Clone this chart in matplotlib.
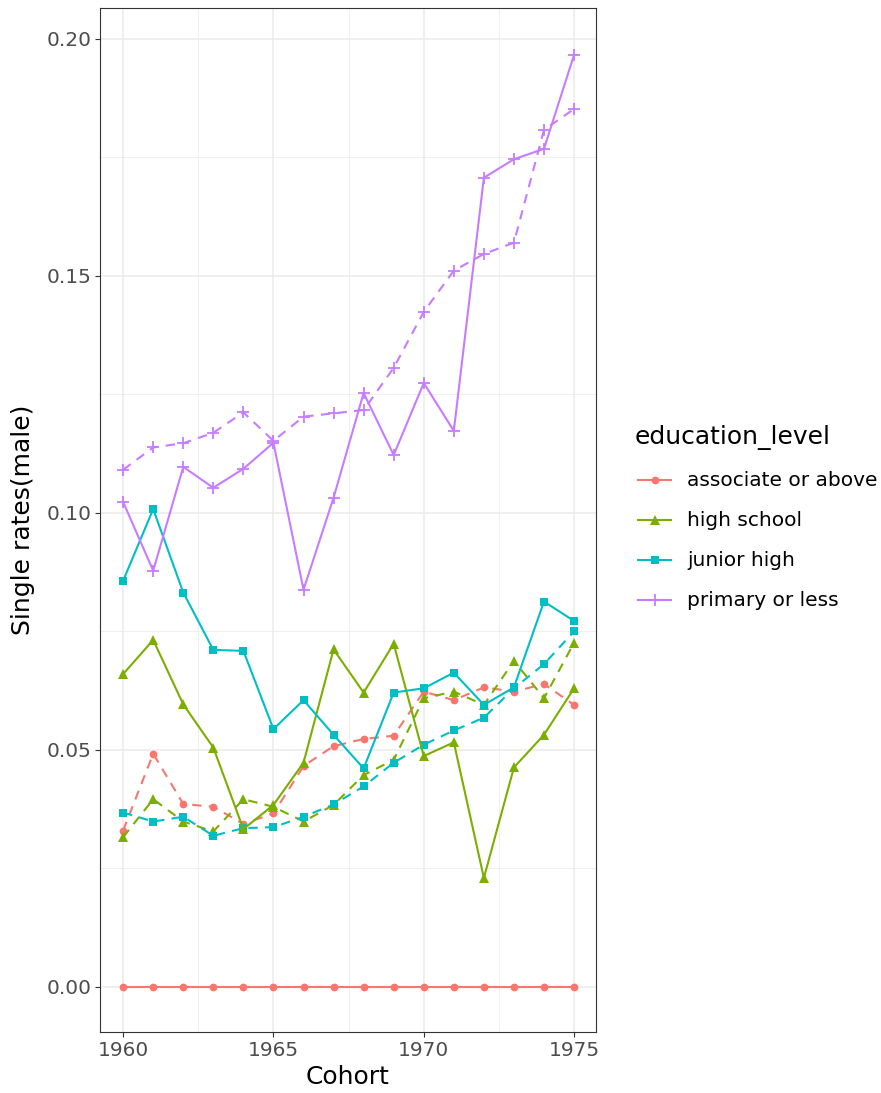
import matplotlib
matplotlib.use("Agg")
import matplotlib.pyplot as plt
from matplotlib.lines import Line2D
from matplotlib.ticker import MultipleLocator

# cohort years
anos = list(range(1960, 1976))

# education levels, ggplot hue colours, shapes
niveis = ["associate or above", "high school", "junior high", "primary or less"]
cores = ["#F8766D", "#7CAE00", "#00BFC4", "#C77CFF"]
marcadores = ["o", "^", "s", "+"]
tamanhos = [5.6, 7.0, 5.8, 8.0]

# solid lines
assoc_solida = [0.0] * 16
medio_solida = [0.0660, 0.0732, 0.0596, 0.0505, 0.0333, 0.0384, 0.0473, 0.0712,
                0.0621, 0.0724, 0.0487, 0.0516, 0.0230, 0.0463, 0.0532, 0.0630]
fund_solida = [0.0857, 0.1008, 0.0832, 0.0711, 0.0709, 0.0544, 0.0605, 0.0532,
               0.0461, 0.0621, 0.0630, 0.0663, 0.0595, 0.0632, 0.0813, 0.0772]
prim_solida = [0.1023, 0.0878, 0.1097, 0.1053, 0.1093, 0.1148, 0.0838, 0.1032,
               0.1253, 0.1122, 0.1274, 0.1173, 0.1707, 0.1746, 0.1768, 0.1966]

# dashed lines
assoc_tracejada = [0.0330, 0.0492, 0.0386, 0.0380, 0.0344, 0.0366, 0.0466, 0.0508,
                   0.0523, 0.0530, 0.0623, 0.0605, 0.0632, 0.0623, 0.0639, 0.0595]
medio_tracejada = [0.0316, 0.0396, 0.0349, 0.0328, 0.0396, 0.0380, 0.0349, 0.0384,
                   0.0447, 0.0479, 0.0609, 0.0623, 0.0595, 0.0688, 0.0609, 0.0726]
fund_tracejada = [0.0368, 0.0349, 0.0359, 0.0319, 0.0335, 0.0337, 0.0359, 0.0385,
                  0.0423, 0.0473, 0.0511, 0.0541, 0.0568, 0.0630, 0.0681, 0.0750]
prim_tracejada = [0.1091, 0.1138, 0.1147, 0.1169, 0.1212, 0.1152, 0.1203, 0.1210,
                  0.1217, 0.1306, 0.1424, 0.1511, 0.1546, 0.1570, 0.1808, 0.1852]

solidas = [assoc_solida, medio_solida, fund_solida, prim_solida]
tracejadas = [assoc_tracejada, medio_tracejada, fund_tracejada, prim_tracejada]

W, H = 881, 1093
fig = plt.figure(figsize=(W / 100, H / 100), dpi=100)
ax = fig.add_axes([100 / W, 1 - 1032 / H, 496 / W, 1024 / H])

# dashed first, solid on top
for i in range(4):
    ax.plot(anos, tracejadas[i], color=cores[i], lw=1.5, dashes=(4.5, 3.5),
            marker=marcadores[i], ms=tamanhos[i], mew=1.3 if marcadores[i] == "+" else 0,
            zorder=3)
for i in range(4):
    ax.plot(anos, solidas[i], color=cores[i], lw=1.5,
            marker=marcadores[i], ms=tamanhos[i], mew=1.3 if marcadores[i] == "+" else 0,
            zorder=4)

ax.set_xlim(1959.23, 1975.73)
ax.set_ylim(-0.0095, 0.2065)
ax.xaxis.set_major_locator(MultipleLocator(5))
ax.xaxis.set_minor_locator(MultipleLocator(2.5))
ax.yaxis.set_major_locator(MultipleLocator(0.05))
ax.yaxis.set_minor_locator(MultipleLocator(0.025))
ax.yaxis.set_major_formatter(plt.FuncFormatter(lambda v, p: "%.2f" % v))

ax.grid(True, which="major", color="#EBEBEB", lw=1.1, zorder=0)
ax.grid(True, which="minor", color="#EBEBEB", lw=0.55, zorder=0)
ax.set_axisbelow(True)
ax.tick_params(which="minor", length=0)
ax.tick_params(which="major", length=3.3, width=0.8, color="#333333",
               labelcolor="#4D4D4D", labelsize=14.5, pad=3)
for s in ax.spines.values():
    s.set_color("#333333")
    s.set_linewidth(0.8)

ax.set_xlabel("Cohort", fontsize=18, labelpad=4)
ax.set_ylabel("Single rates(male)", fontsize=18, labelpad=8)

# legend drawn by hand
fig.text(635 / W, 1 - 438 / H, "education_level", fontsize=18, va="center", ha="left")
for i, nome in enumerate(niveis):
    y = 1 - (480 + 40 * i) / H
    fig.add_artist(Line2D([638 / W, 671 / W], [y, y], transform=fig.transFigure,
                          color=cores[i], lw=1.5))
    fig.add_artist(Line2D([654.5 / W], [y], transform=fig.transFigure, color=cores[i],
                          marker=marcadores[i], ms=tamanhos[i],
                          mew=1.3 if marcadores[i] == "+" else 0, lw=0))
    fig.text(687 / W, 1 - (481 + 40 * i) / H, nome, fontsize=14.5, va="center", ha="left")

fig.savefig("out.png", dpi=100)
